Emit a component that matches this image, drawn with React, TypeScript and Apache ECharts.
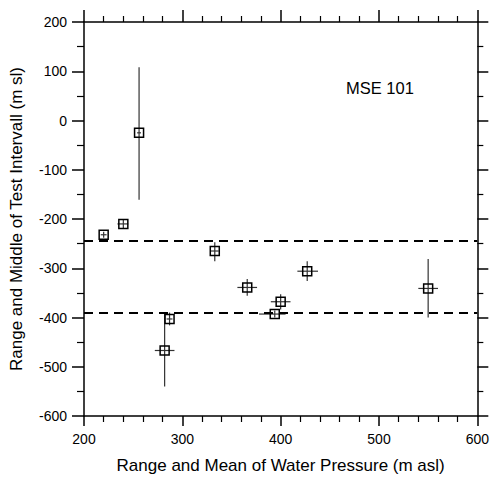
import React, { useEffect, useRef } from "react";
import * as echarts from "echarts";

const xMean = [220, 240, 256, 282, 287, 333, 366, 394, 400, 427, 550];
const yMid = [-232, -210, -25, -467, -403, -265, -339, -393, -368, -306, -341];
const xLow = [217, 234, 254, 272, 284, 329, 356, 378, 390, 417, 540];
const xHigh = [223, 245, 258, 292, 290, 337, 376, 405, 410, 438, 560];
const yLow = [-238, -220, -161, -540, -416, -286, -356, -400, -384, -326, -400];
const yHigh = [-226, -201, 108, -392, -390, -247, -322, -386, -353, -286, -281];
const refLines = [-245, -390];
const annotation = "MSE 101";
const xTitle = "Range and Mean of Water Pressure (m asl)";
const yTitle = "Range and Middle of Test Intervall (m sl)";

const FONT = "Arial, 'Liberation Sans', sans-serif";

export default function App() {
  const ref = useRef<HTMLDivElement>(null);
  useEffect(() => {
    if (!ref.current) return;
    const chart = echarts.init(ref.current, undefined, { renderer: "svg" });
    const data = xMean.map((x, i) => [x, yMid[i], xLow[i], xHigh[i], yLow[i], yHigh[i]]);
    const axisCommon = {
      type: "value" as const,
      axisLine: { show: true, onZero: false, lineStyle: { color: "#000", width: 1.5 } },
      splitLine: { show: false },
    };
    chart.setOption({
      animation: false,
      backgroundColor: "#fff",
      grid: { left: 84, right: 11.5, top: 22, bottom: 60.5 },
      xAxis: [
        {
          ...axisCommon,
          position: "bottom",
          min: 200,
          max: 600,
          interval: 100,
          name: xTitle,
          nameLocation: "middle",
          nameGap: 41,
          nameTextStyle: { fontFamily: FONT, fontSize: 17, color: "#000" },
          axisTick: { show: true, inside: false, length: 10, lineStyle: { color: "#000", width: 1.5 } },
          minorTick: { show: true, splitNumber: 5, length: 6, lineStyle: { color: "#000", width: 1.2 } },
          axisLabel: { fontFamily: FONT, fontSize: 14, color: "#000", margin: 16 },
        },
        {
          ...axisCommon,
          position: "top",
          min: 200,
          max: 600,
          interval: 100,
          axisTick: { show: true, inside: false, length: 12, lineStyle: { color: "#000", width: 1.5 } },
          minorTick: { show: true, splitNumber: 5, length: 6, lineStyle: { color: "#000", width: 1.2 } },
          axisLabel: { show: false },
        },
      ],
      yAxis: [
        {
          ...axisCommon,
          position: "left",
          min: -600,
          max: 200,
          interval: 100,
          name: yTitle,
          nameLocation: "middle",
          nameGap: 59,
          nameTextStyle: { fontFamily: FONT, fontSize: 17, color: "#000" },
          axisTick: { show: true, inside: false, length: 12, lineStyle: { color: "#000", width: 1.5 } },
          minorTick: { show: true, splitNumber: 2, length: 7, lineStyle: { color: "#000", width: 1.2 } },
          axisLabel: { fontFamily: FONT, fontSize: 14, color: "#000", margin: 17 },
        },
        {
          ...axisCommon,
          position: "right",
          min: -600,
          max: 200,
          interval: 100,
          axisTick: { show: true, inside: false, length: 11, lineStyle: { color: "#000", width: 1.5 } },
          minorTick: { show: true, splitNumber: 2, length: 6, lineStyle: { color: "#000", width: 1.2 } },
          axisLabel: { show: false },
        },
      ],
      graphic: [
        {
          type: "text",
          left: 346,
          top: 79,
          style: { text: annotation, font: `16.5px ${FONT}`, fill: "#000" },
        },
      ],
      series: [
        {
          type: "line",
          data: [],
          markLine: {
            silent: true,
            symbol: "none",
            label: { show: false },
            lineStyle: { color: "#000", type: [9, 6], width: 2 },
            data: refLines.map((v) => ({ yAxis: v })),
          },
        },
        {
          type: "custom",
          renderItem: (params: any, api: any) => {
            const c = api.coord([api.value(0), api.value(1)]);
            const xl = api.coord([api.value(2), api.value(1)]);
            const xh = api.coord([api.value(3), api.value(1)]);
            const yl = api.coord([api.value(0), api.value(4)]);
            const yh = api.coord([api.value(0), api.value(5)]);
            const s = 9;
            const lineStyle = { stroke: "#333", lineWidth: 1.2 };
            return {
              type: "group",
              children: [
                { type: "line", shape: { x1: xl[0], y1: c[1], x2: xh[0], y2: c[1] }, style: lineStyle },
                { type: "line", shape: { x1: c[0], y1: yl[1], x2: c[0], y2: yh[1] }, style: lineStyle },
                {
                  type: "rect",
                  shape: { x: c[0] - s / 2, y: c[1] - s / 2, width: s, height: s },
                  style: { fill: "none", stroke: "#000", lineWidth: 1.5 },
                },
              ],
            };
          },
          data,
        },
      ],
    });
    return () => chart.dispose();
  }, []);
  return (
    <div
      ref={ref}
      style={{ position: "absolute", left: 0, top: 0, width: 492, height: 479, overflow: "hidden" }}
    />
  );
}
